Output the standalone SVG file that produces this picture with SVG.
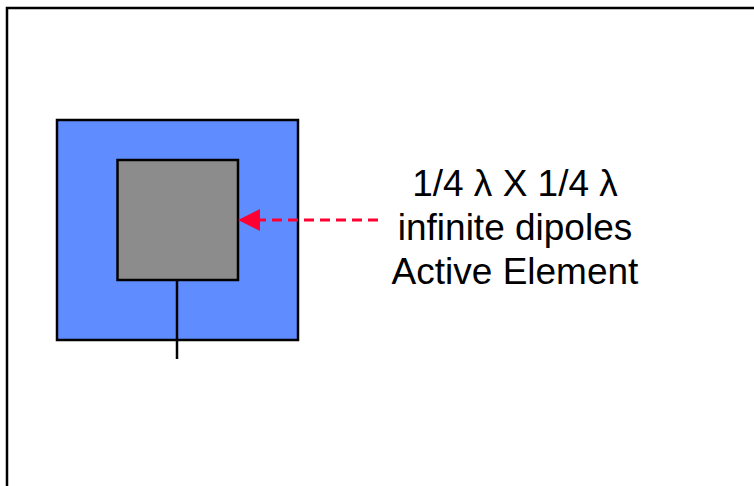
<svg xmlns="http://www.w3.org/2000/svg" width="754" height="486" viewBox="0 0 754 486">
<style>
.lbl{font-family:"Liberation Sans",Arial,sans-serif;font-size:37px;fill:#000;text-anchor:middle}
</style>
<rect width="754" height="486" fill="#fff"/>
<g id="frame"><path d="M7,486 L7,8 L760,8" fill="none" stroke="#000" stroke-width="2.5"/></g>
<g id="substrate"><rect x="57" y="120" width="241" height="220" fill="#5f8dff" stroke="#000" stroke-width="2.5"/></g>
<g id="patch"><rect x="117.5" y="160" width="120.5" height="120" fill="#8c8c8c" stroke="#000" stroke-width="2.5"/></g>
<g id="connectors">
<line x1="177" y1="280" x2="177" y2="359" stroke="#000" stroke-width="2.5"/>
<line x1="378" y1="220" x2="259" y2="220" stroke="#ff0033" stroke-width="3" stroke-dasharray="10,6"/>
<path d="M238,220 L260,209 L260,231 Z" fill="#ff0033"/>
</g>
<g id="label">
<text class="lbl" x="515" y="196">1/4 λ X 1/4 λ</text>
<text class="lbl" x="515" y="240">infinite dipoles</text>
<text class="lbl" x="515" y="284">Active Element</text>
</g>
</svg>
